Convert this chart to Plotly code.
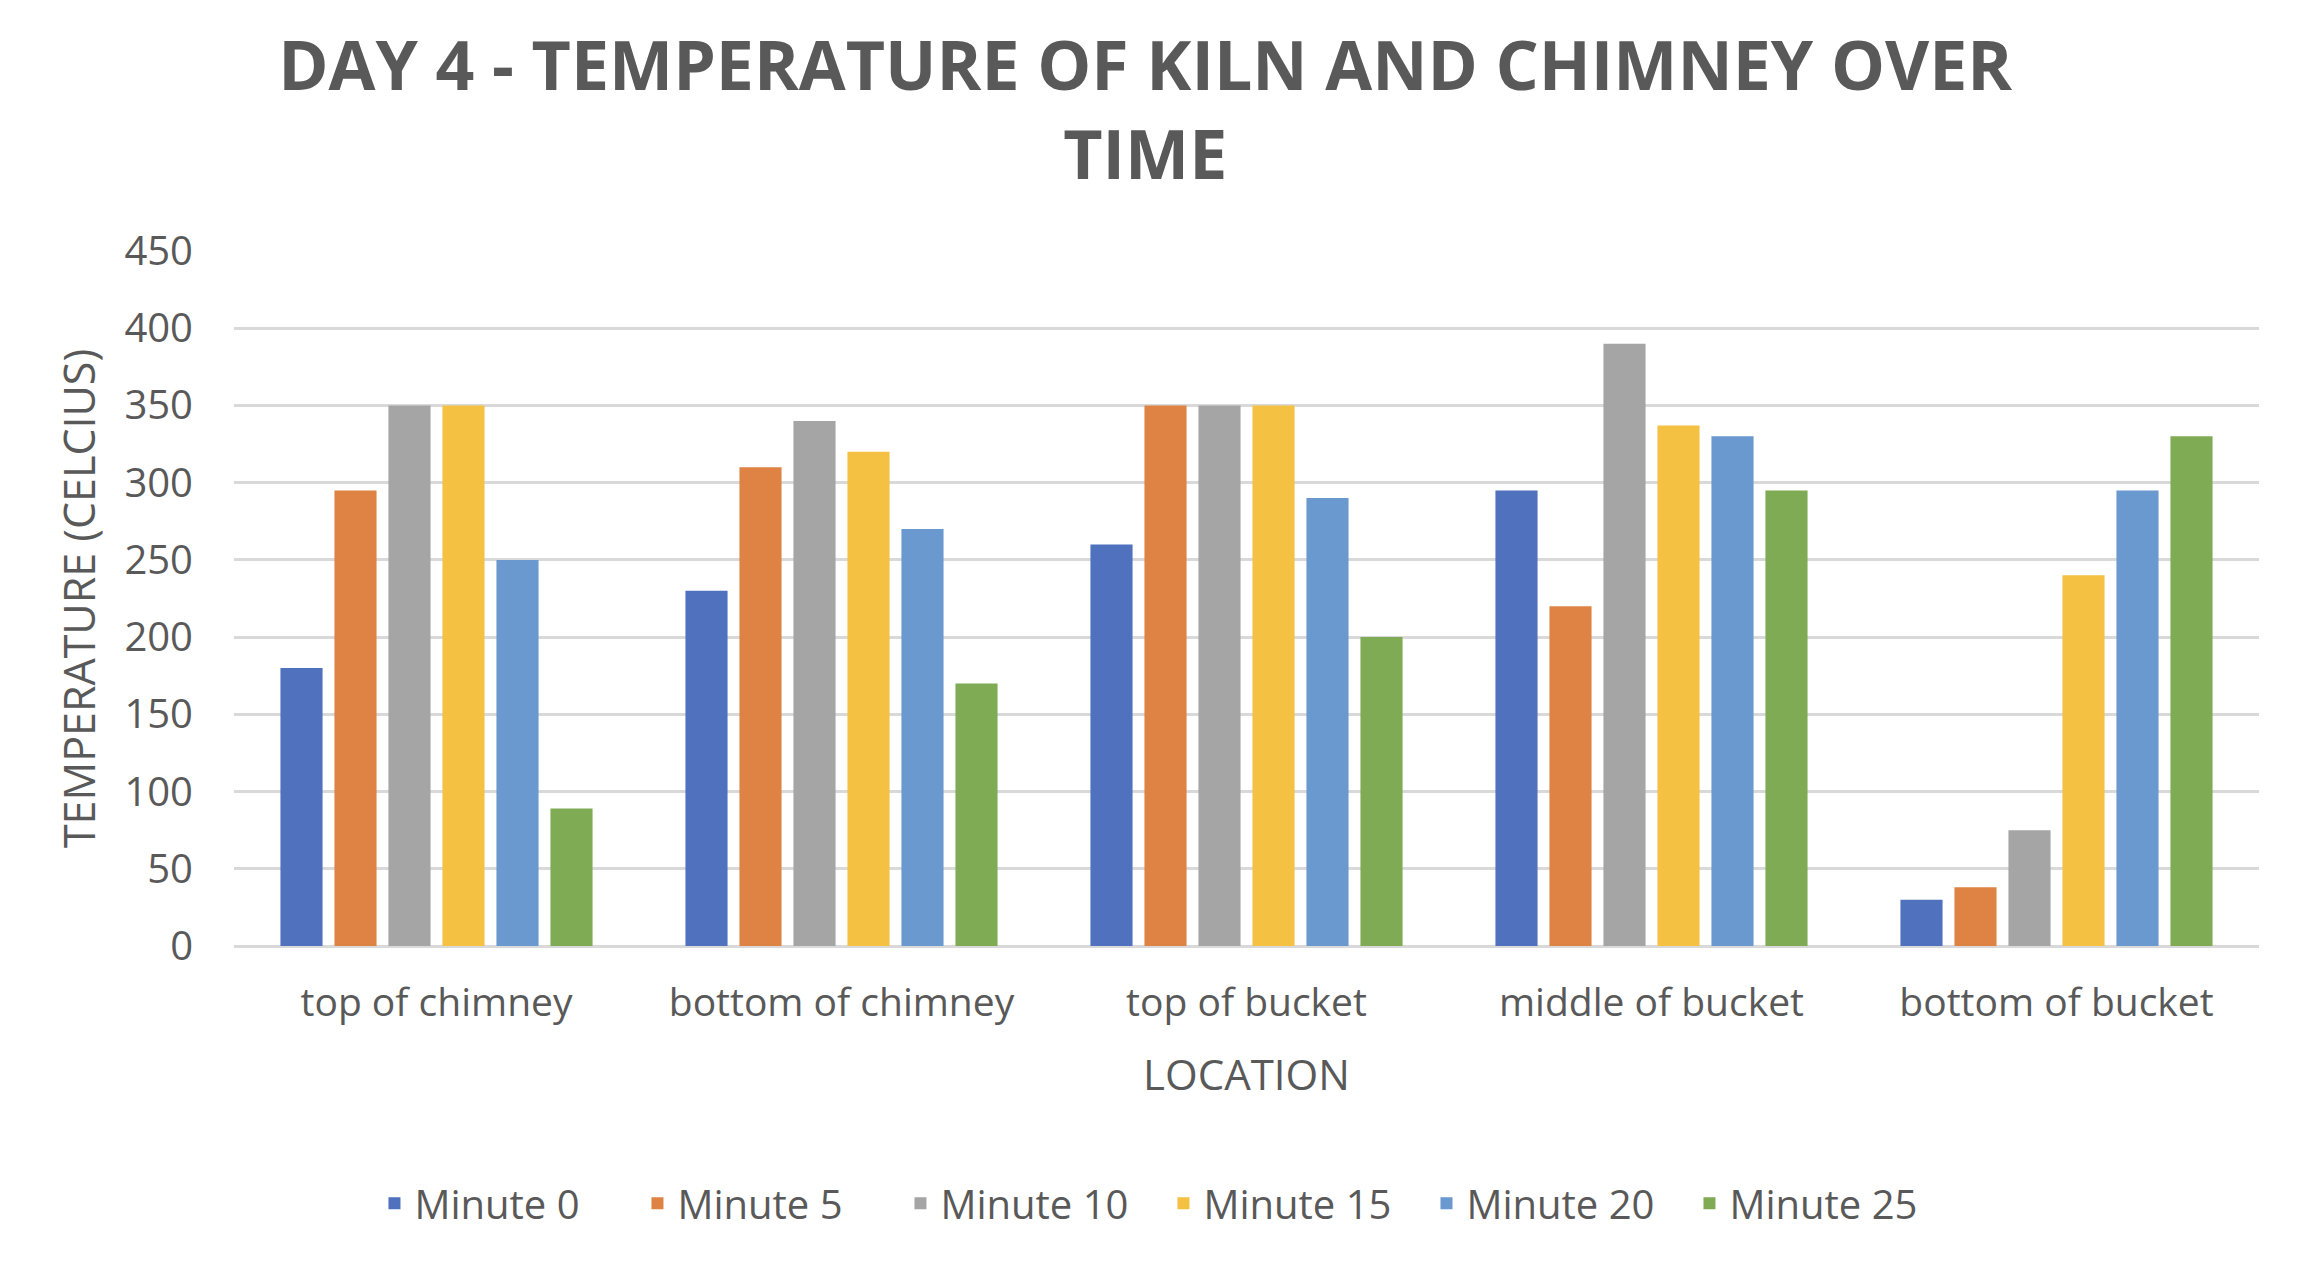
import plotly.graph_objects as go

categories = ["top of chimney", "bottom of chimney", "top of bucket", "middle of bucket", "bottom of bucket"]
series_names = ["Minute 0", "Minute 5", "Minute 10", "Minute 15", "Minute 20", "Minute 25"]
minute_0 = [180, 230, 260, 295, 30]
minute_5 = [295, 310, 350, 220, 38]
minute_10 = [350, 340, 350, 390, 75]
minute_15 = [350, 320, 350, 337, 240]
minute_20 = [250, 270, 290, 330, 295]
minute_25 = [89, 170, 200, 295, 330]
series_values = [minute_0, minute_5, minute_10, minute_15, minute_20, minute_25]
colors = ["#4F71BE", "#DE8344", "#A5A5A5", "#F4C142", "#6A99CF", "#7FAB55"]
y_ticks = [0, 50, 100, 150, 200, 250, 300, 350, 400, 450]

FONT = "Open Sans"
TXT = "#595959"

fig = go.Figure()
for name, vals, col in zip(series_names, series_values, colors):
    fig.add_trace(go.Bar(name=name, x=categories, y=vals, marker=dict(color=col, line=dict(width=0))))

fig.update_layout(
    width=2302, height=1264,
    margin=dict(l=226, r=51, t=243, b=326, autoexpand=False),
    paper_bgcolor="white", plot_bgcolor="white",
    barmode="group", bargap=0.2, bargroupgap=0.22,
    font=dict(family=FONT, color=TXT, size=38),
    title=dict(
        text="DAY 4 - TEMPERATURE OF KILN AND CHIMNEY OVER<br>TIME",
        x=0.494, xanchor="center", xref="container",
        y=0.935, yanchor="top", yref="container",
        font=dict(family=FONT, size=68, color=TXT, weight="bold"),
    ),
    xaxis=dict(
        showgrid=False, showline=False, zeroline=False,
        ticks="", ticklabelstandoff=30, tickangle=0, automargin=False,
        tickfont=dict(size=39, color=TXT),
        title=dict(text="LOCATION", font=dict(size=42, color=TXT), standoff=34),
    ),
    yaxis=dict(
        range=[0, 450], tickvals=y_ticks, automargin=False,
        showgrid=True, gridcolor="#D9D9D9", gridwidth=3,
        zeroline=True, zerolinecolor="#D9D9D9", zerolinewidth=3,
        showline=False, ticks="", ticklabelstandoff=40,
        tickfont=dict(size=40, color=TXT),
        title=dict(text="TEMPERATURE (CELCIUS)", font=dict(size=43, color=TXT), standoff=15),
    ),
    legend=dict(
        orientation="h", x=0.459, xanchor="center",
        y=-0.37, yanchor="middle",
        entrywidth=218, entrywidthmode="pixels",
        font=dict(size=40, color=TXT),
    ),
)

fig.write_html("out.html")
